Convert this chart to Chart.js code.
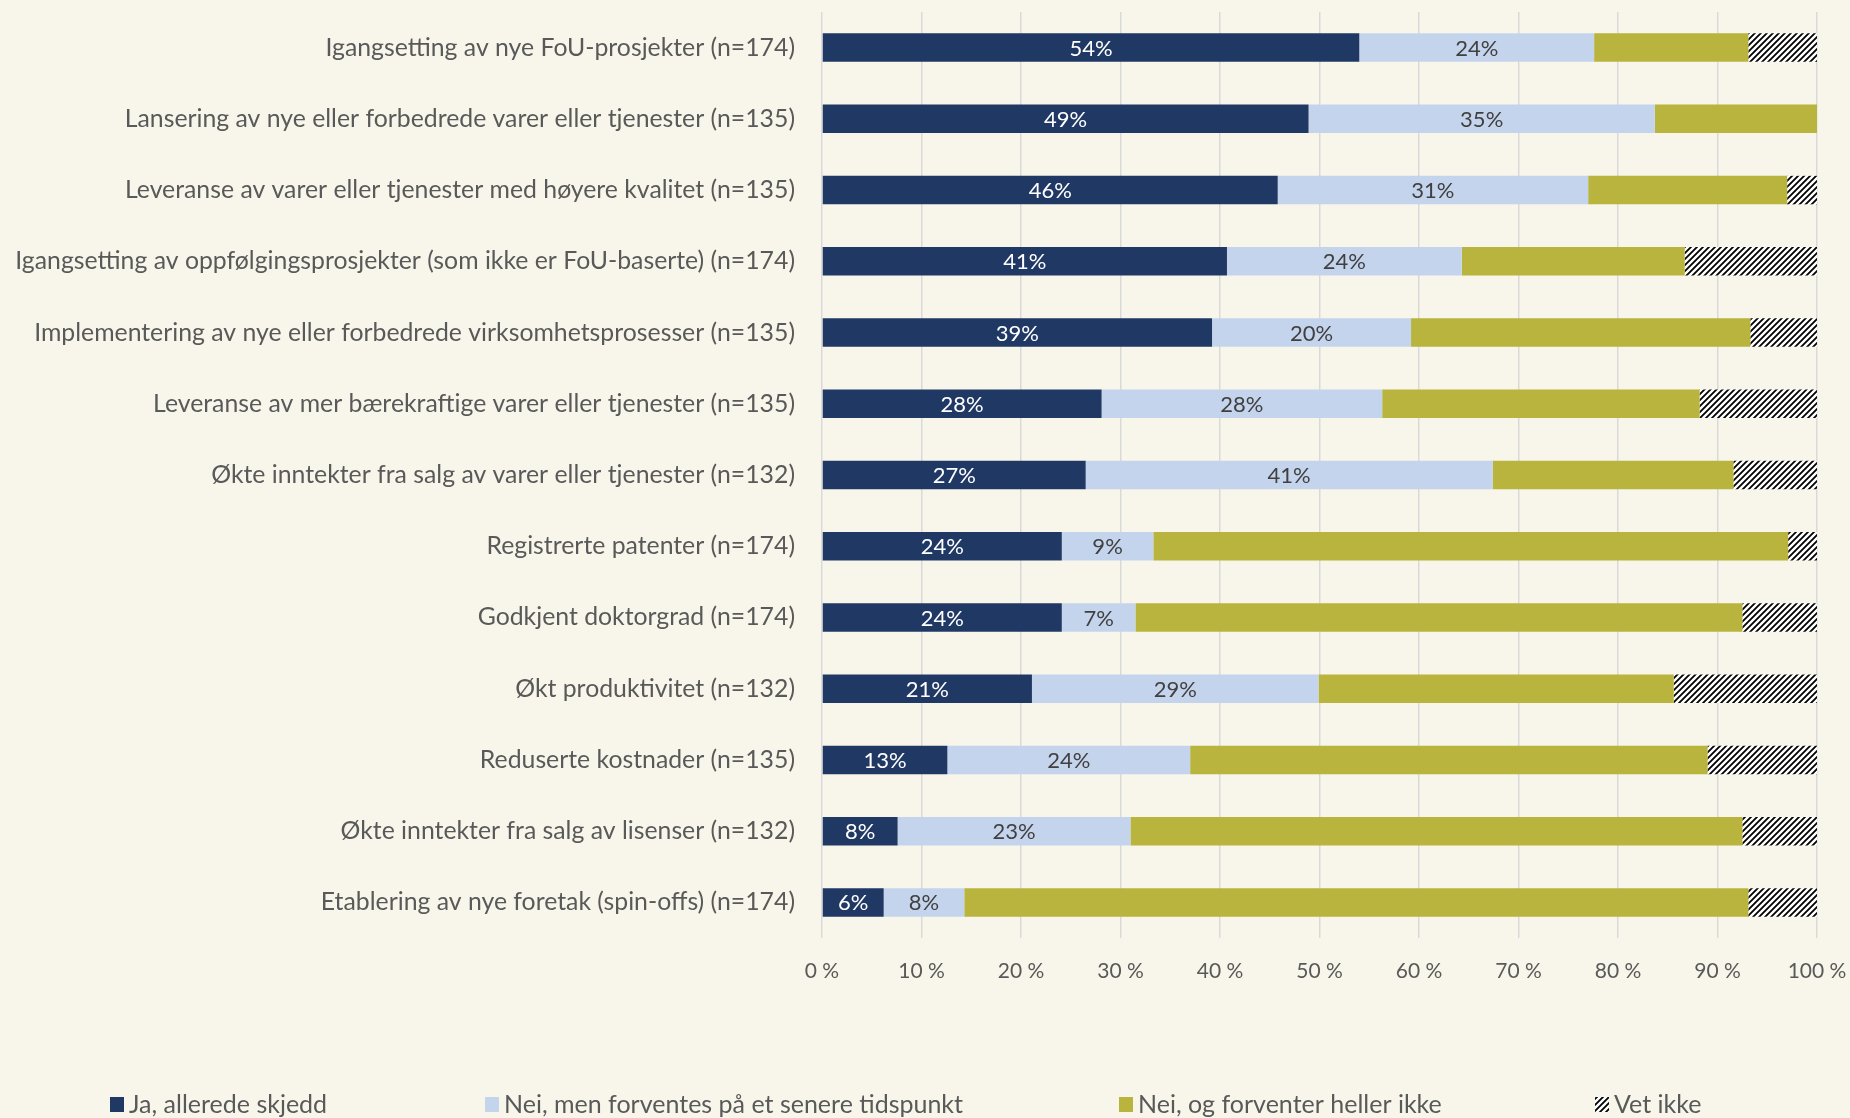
<!DOCTYPE html>
<html>
<head>
<meta charset="utf-8">
<script src="https://cdn.jsdelivr.net/npm/chart.js@4.4.1/dist/chart.umd.min.js"></script>
<style>
  html, body { margin: 0; padding: 0; background: #F8F6EA; }
  #wrap { width: 1850px; height: 1118px; position: relative; }
</style>
</head>
<body>
<div id="wrap"><canvas id="c"></canvas></div>
<script>
const categories = [
  "Igangsetting av nye FoU-prosjekter (n=174)",
  "Lansering av nye eller forbedrede varer eller tjenester (n=135)",
  "Leveranse av varer eller tjenester med høyere kvalitet (n=135)",
  "Igangsetting av oppfølgingsprosjekter (som ikke er FoU-baserte) (n=174)",
  "Implementering av nye eller forbedrede virksomhetsprosesser (n=135)",
  "Leveranse av mer bærekraftige varer eller tjenester (n=135)",
  "Økte inntekter fra salg av varer eller tjenester (n=132)",
  "Registrerte patenter (n=174)",
  "Godkjent doktorgrad (n=174)",
  "Økt produktivitet (n=132)",
  "Reduserte kostnader (n=135)",
  "Økte inntekter fra salg av lisenser (n=132)",
  "Etablering av nye foretak (spin-offs) (n=174)"
];
const seriesNames = [
  "Ja, allerede skjedd",
  "Nei, men forventes på et senere tidspunkt",
  "Nei, og forventer heller ikke",
  "Vet ikke"
];
const jaValues        = [54.0, 48.9, 45.8, 40.7, 39.2, 28.1, 26.5, 24.1, 24.1, 21.1, 12.6, 7.6, 6.2];
const neiSenereValues = [23.6, 34.8, 31.2, 23.6, 20.0, 28.2, 40.9, 9.2, 7.4, 28.8, 24.4, 23.4, 8.1];
const neiIkkeValues   = [15.5, 16.3, 20.0, 22.4, 34.1, 31.9, 24.2, 63.8, 61.0, 35.7, 52.0, 61.5, 78.8];
const vetIkkeValues   = [6.9, 0, 3.0, 13.3, 6.7, 11.8, 8.4, 2.9, 7.5, 14.4, 11.0, 7.5, 6.9];
const xTicks = [0, 10, 20, 30, 40, 50, 60, 70, 80, 90, 100];

const FONT = "Lato, 'Open Sans', sans-serif";
const TEXT = "#595959";

function makeHatch() {
  const s = 6;
  const cv = document.createElement('canvas');
  cv.width = s; cv.height = s;
  const g = cv.getContext('2d');
  g.fillStyle = '#ffffff';
  g.fillRect(0, 0, s, s);
  g.strokeStyle = '#000000';
  g.lineWidth = 1.8;
  g.beginPath();
  g.moveTo(-1, s + 1); g.lineTo(s + 1, -1);
  g.moveTo(-1, 1); g.lineTo(1, -1);
  g.moveTo(s - 1, s + 1); g.lineTo(s + 1, s - 1);
  g.stroke();
  return g.createPattern(cv, 'repeat');
}
const hatch = makeHatch();
const colors = ['#203864', '#C5D4ED', '#B8B43D', hatch];
const labelColors = ['#ffffff', '#404040'];

const dataLabelPlugin = {
  id: 'segLabels',
  afterDatasetsDraw(chart) {
    const ctx = chart.ctx;
    ctx.save();
    ctx.font = "22px " + FONT;
    ctx.textAlign = 'center';
    ctx.textBaseline = 'middle';
    [0, 1].forEach(di => {
      const meta = chart.getDatasetMeta(di);
      const vals = chart.data.datasets[di].data;
      meta.data.forEach((el, i) => {
        const v = vals[i];
        if (!v) return;
        ctx.fillStyle = labelColors[di];
        ctx.fillText(Math.round(v) + '%', (el.x + el.base) / 2, el.y + 1);
      });
    });
    ctx.restore();
  }
};

const legendX = [110, 485, 1119, 1595];
const customLegend = {
  id: 'customLegend',
  afterDraw(chart) {
    const ctx = chart.ctx;
    ctx.save();
    ctx.font = "25px " + FONT;
    ctx.textBaseline = 'middle';
    ctx.textAlign = 'left';
    const yc = 1105;
    chart.data.datasets.forEach((ds, i) => {
      const x = legendX[i];
      ctx.fillStyle = ds.backgroundColor;
      ctx.fillRect(x, yc - 8, 14, 15);
      ctx.fillStyle = TEXT;
      ctx.fillText(ds.label, x + 19, yc);
    });
    ctx.restore();
  }
};

const datasets = [jaValues, neiSenereValues, neiIkkeValues, vetIkkeValues].map((d, i) => ({
  label: seriesNames[i],
  data: d,
  backgroundColor: colors[i],
  borderWidth: 0,
  barPercentage: 0.4,
  categoryPercentage: 1.0
}));

new Chart(document.getElementById('c'), {
  type: 'bar',
  data: { labels: categories, datasets },
  options: {
    indexAxis: 'y',
    responsive: true,
    maintainAspectRatio: false,
    animation: false,
    layout: { padding: { top: 12, right: 33, bottom: 0, left: 0 } },
    plugins: { legend: { display: false }, tooltip: { enabled: false } },
    scales: {
      x: {
        stacked: true,
        min: 0, max: 100,
        afterBuildTicks(scale) { scale.ticks = xTicks.map(v => ({ value: v })); },
        afterFit(scale) {
          scale.height = 180;
          scale.paddingLeft = 0; scale.paddingRight = 0;
          scale.paddingTop = 0; scale.paddingBottom = 0;
        },
        ticks: {
          callback: v => v + ' %',
          color: TEXT,
          font: { family: FONT, size: 21 },
          padding: 21,
          maxRotation: 0
        },
        grid: { color: '#D9D9D9', lineWidth: 1.5, drawTicks: false },
        border: { display: false }
      },
      y: {
        stacked: true,
        afterFit(scale) {
          scale.width = 822;
          scale.paddingTop = 0; scale.paddingBottom = 0;
          scale.paddingLeft = 0; scale.paddingRight = 0;
        },
        ticks: {
          color: TEXT,
          font: { family: FONT, size: 24.8 },
          padding: 27,
          autoSkip: false
        },
        grid: { display: false, drawTicks: false },
        border: { display: false }
      }
    }
  },
  plugins: [dataLabelPlugin, customLegend]
});
</script>
</body>
</html>
